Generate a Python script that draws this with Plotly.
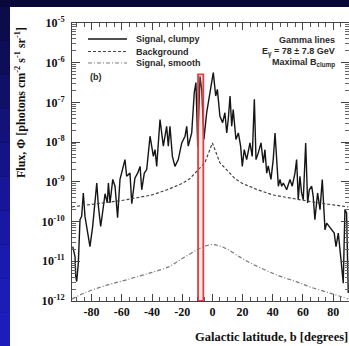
import plotly.graph_objects as go

# ---------------- data ----------------
clumpy_b = [-92.5, -91.0, -90.5, -89.9, -88.8, -87.7, -86.6, -85.5, -84.4, -82.2,
            -81.1, -79.3, -76.6, -75.5, -74.0, -72.2, -71.1, -69.6, -68.9, -67.8,
            -66.0, -64.5, -62.8, -61.2, -57.9, -56.8, -54.6, -53.4, -51.3, -49.5,
            -47.9, -46.8, -45.1, -43.5, -41.3, -39.1, -38.0, -36.9, -34.7, -32.5,
            -30.3, -29.2, -28.1, -26.5, -24.8, -22.6, -20.3, -18.1, -17.0, -16.0,
            -13.7, -12.0, -10.9, -9.7, -8.2, -7.1, -5.6, -3.8, -1.6, 0.6,
            2.2, 3.3, 5.0, 6.8, 8.3, 9.5, 10.5, 11.7, 12.8, 13.8,
            15.6, 17.2, 18.7, 19.8, 21.1, 22.7, 24.9, 26.4, 27.8, 28.9,
            30.4, 32.2, 33.7, 34.8, 36.0, 37.0, 38.8, 40.3, 41.5, 42.6,
            43.7, 44.8, 45.9, 47.0, 49.2, 51.4, 52.9, 54.7, 55.8, 56.9,
            58.0, 59.1, 60.2, 61.8, 63.1, 64.2, 65.8, 66.8, 67.9, 69.7,
            71.3, 72.8, 74.6, 75.7, 77.2, 79.0, 80.7, 81.9, 83.4, 85.2,
            86.7, 87.8, 88.9, 90.0]
clumpy_flux = [2.34e-11, 1.32e-11, 4.07e-12, 3.09e-12, 9.12e-12, 1.12e-10, 1.35e-10, 5.25e-10, 1.35e-10, 4.17e-11,
               2.34e-11, 7.59e-11, 9.33e-10, 2.40e-10, 7.59e-11, 2.40e-10, 5.01e-10, 2.95e-10, 9.33e-10, 2.95e-10,
               1.15e-9, 7.76e-10, 1.26e-10, 1.15e-9, 3.63e-9, 1.38e-9, 1.66e-9, 2.82e-10, 1.26e-9, 1.66e-9,
               2.45e-9, 6.31e-10, 1.66e-9, 2.04e-9, 1.41e-8, 4.37e-9, 6.46e-9, 2.45e-9, 3.72e-8, 7.94e-9,
               2.51e-8, 7.94e-9, 2.51e-8, 4.37e-9, 2.45e-9, 3.63e-9, 9.55e-9, 1.41e-8, 2.51e-8, 7.94e-9,
               1.70e-8, 1.78e-7, 3.16e-7, 7.94e-9, 4.57e-7, 2.14e-7, 1.17e-8, 5.50e-8, 1.78e-7, 5.62e-7,
               1.45e-7, 2.14e-7, 4.47e-8, 3.09e-8, 5.50e-8, 1.70e-8, 3.72e-8, 1.45e-7, 2.51e-8, 6.61e-8,
               1.17e-8, 1.70e-8, 7.94e-9, 2.45e-9, 6.46e-9, 3.63e-9, 9.55e-9, 4.37e-9, 1.20e-7, 3.63e-9,
               5.37e-9, 9.55e-9, 3.02e-9, 6.46e-9, 1.66e-9, 2.51e-9, 1.15e-9, 3.63e-9, 1.70e-8, 3.63e-9,
               7.76e-10, 1.15e-9, 7.76e-10, 9.33e-10, 6.31e-10, 1.15e-9, 7.76e-10, 1.66e-9, 3.63e-9, 3.55e-10,
               1.38e-9, 5.25e-10, 3.55e-10, 9.55e-9, 2.95e-10, 6.31e-10, 7.76e-10, 4.27e-10, 1.12e-10, 5.25e-10,
               2.00e-10, 1.15e-9, 6.17e-11, 9.12e-11, 7.59e-11, 6.17e-11, 5.13e-11, 2.34e-11, 5.13e-11, 1.10e-11,
               2.82e-12, 2.00e-10, 1.66e-10, 1.58e-12]

background_b = [-93, -80, -70, -60, -50, -40, -30, -25, -20, -15, -10, -5, -2, 0,
                2, 5, 10, 15, 20, 25, 30, 40, 50, 60, 70, 80, 90]
background_flux = [2.34e-10, 2.69e-10, 3.02e-10, 3.39e-10, 3.98e-10, 4.68e-10, 6.31e-10, 7.59e-10,
                   9.12e-10, 1.20e-9, 1.91e-9, 3.02e-9, 6.03e-9, 9.55e-9,
                   6.03e-9, 3.02e-9, 1.91e-9, 1.20e-9, 9.12e-10, 7.59e-10, 6.31e-10, 4.68e-10,
                   3.98e-10, 3.39e-10, 2.95e-10, 2.63e-10, 2.34e-10]

smooth_b = [-93, -85, -70, -60, -50, -40, -29, -20, -10, -5, 0, 5, 10, 18, 25, 35, 45,
            56, 65, 78, 86, 90]
smooth_flux = [1.12e-12, 1.58e-12, 2.51e-12, 3.16e-12, 4.07e-12, 5.25e-12, 7.24e-12, 1.17e-11,
               1.95e-11, 2.40e-11, 2.63e-11, 2.40e-11, 2.00e-11, 1.29e-11, 9.12e-12, 6.03e-12,
               4.17e-12, 3.02e-12, 2.24e-12, 1.58e-12, 1.26e-12, 1.12e-12]

highlight_b = [-9.5, -6.0]
highlight_flux = [1e-12, 5.1e-7]

x_tickvals = [-80, -60, -40, -20, 0, 20, 40, 60, 80]
x_ticktext = ["-80", "-60", "-40", "-20", "0", "20", "40", "60", "80"]
y_tickvals = [1e-12, 1e-11, 1e-10, 1e-9, 1e-8, 1e-7, 1e-6, 1e-5]
y_ticktext = ["10<sup>-12</sup>", "10<sup>-11</sup>", "10<sup>-10</sup>", "10<sup>-9</sup>",
              "10<sup>-8</sup>", "10<sup>-7</sup>", "10<sup>-6</sup>", "10<sup>-5</sup>"]

legend_names = ["Signal, clumpy", "Background", "Signal, smooth"]
info_lines = ["Gamma lines", "E<sub>γ</sub> = 78 ± 7.8 GeV", "Maximal B<sub>clump</sub>"]

# ---------------- styles ----------------
W, H = 349, 346
ML, MR, MT, MB = 72, 0, 23, 45
PW, PH = W - ML - MR, H - MT - MB

def px(xp):
    return (xp - ML) / PW

def py(yp):
    return (MT + PH - yp) / PH

styles = [dict(color="#151515", width=1.4),
          dict(color="#444444", width=1.2, dash="3px,2px"),
          dict(color="#7a7a7a", width=1.2, dash="4px,2px,1px,2px")]

fig = go.Figure()
fig.add_trace(go.Scatter(x=clumpy_b, y=clumpy_flux, mode="lines", line=styles[0],
                         name=legend_names[0], showlegend=False))
fig.add_trace(go.Scatter(x=background_b, y=background_flux, mode="lines", line=styles[1],
                         name=legend_names[1], showlegend=False))
fig.add_trace(go.Scatter(x=smooth_b, y=smooth_flux, mode="lines", line=dict(styles[2], shape="spline"),
                         name=legend_names[2], showlegend=False))

hx = [highlight_b[0], highlight_b[1], highlight_b[1], highlight_b[0], highlight_b[0]]
hy = [highlight_flux[0], highlight_flux[0], highlight_flux[1], highlight_flux[1], highlight_flux[0]]
fig.add_trace(go.Scatter(x=hx, y=hy, mode="lines", fill="toself",
                         fillcolor="rgba(255,170,170,0.22)",
                         line=dict(color="#e04040", width=1.8), showlegend=False))

shapes = []
# outer dark blue frame with gradient on the left
blues = ["#0c0c4a", "#0e0e58", "#101068", "#121278", "#141488", "#161696", "#1818a4", "#1a1aae", "#1c1cb6", "#1d1dbc"]
n = len(blues)
top_px, bot_px = 7, H
for i, c in enumerate(blues):
    y0 = top_px + (bot_px - top_px) * i / n
    y1 = top_px + (bot_px - top_px) * (i + 1) / n
    shapes.append(dict(type="rect", xref="paper", yref="paper", x0=px(0), x1=px(10.5),
                       y0=py(y1), y1=py(y0), fillcolor=c, line=dict(width=0), layer="below"))
shapes.append(dict(type="rect", xref="paper", yref="paper", x0=px(10), x1=px(W + 5),
                   y0=py(H + 5), y1=py(7), fillcolor="white", line=dict(width=0), layer="below"))

# manual legend samples
leg_y = [39, 51.5, 63]
for st, yy in zip(styles, leg_y):
    shapes.append(dict(type="line", xref="paper", yref="paper", x0=px(88), x1=px(127),
                       y0=py(yy), y1=py(yy), line=st))

annotations = []
for name, yy in zip(legend_names, leg_y):
    annotations.append(dict(text=name, xref="paper", yref="paper", x=px(134), y=py(yy),
                            xanchor="left", yanchor="middle", showarrow=False,
                            font=dict(family="Liberation Sans", size=9, color="#2a2a2a", weight="bold")))
for txt, yy in zip(info_lines, [40, 51.5, 63]):
    annotations.append(dict(text=txt, xref="paper", yref="paper", x=px(337), y=py(yy),
                            xanchor="right", yanchor="middle", showarrow=False,
                            font=dict(family="Liberation Sans", size=9, color="#2a2a2a", weight="bold")))
annotations.append(dict(text="(b)", xref="paper", yref="paper", x=px(88), y=py(77),
                        xanchor="left", yanchor="middle", showarrow=False,
                        font=dict(family="Liberation Sans", size=9, color="#2a2a2a", weight="bold")))
annotations.append(dict(text="Flux, Φ [photons cm<sup>-2</sup> s<sup>-1</sup> sr<sup>-1</sup>]",
                        xref="paper", yref="paper", x=px(20), y=py(103), textangle=-90,
                        xanchor="center", yanchor="middle", showarrow=False,
                        font=dict(family="Liberation Serif", size=12, color="#111", weight="bold")))
annotations.append(dict(text="Galactic latitude, b [degrees]", xref="paper", yref="paper",
                        x=px(193), y=py(337), xanchor="left", yanchor="middle", showarrow=False,
                        font=dict(family="Liberation Serif", size=12.5, color="#111", weight="bold")))

minor_y = [k * 10.0 ** e for e in range(-12, -5) for k in range(2, 10)]

tickfont = dict(family="Liberation Serif", size=12, color="#111", weight="bold")
fig.update_layout(
    width=W, height=H,
    margin=dict(l=ML, r=MR, t=MT, b=MB),
    paper_bgcolor="#08083a", plot_bgcolor="white",
    shapes=shapes, annotations=annotations, showlegend=False,
    xaxis=dict(range=[-93, 90.5], tickvals=x_tickvals, ticktext=x_ticktext,
               ticks="inside", ticklen=7, tickwidth=1, tickcolor="#444",
               showline=True, linecolor="#444", linewidth=1, mirror="ticks",
               showgrid=False, zeroline=False, tickfont=tickfont,
               minor=dict(dtick=5, tick0=0, ticks="inside", ticklen=4, tickcolor="#555", showgrid=False)),
    yaxis=dict(type="log", range=[-12, -5], tickvals=y_tickvals, ticktext=y_ticktext,
               ticks="inside", ticklen=8, tickwidth=1, tickcolor="#444",
               showline=True, linecolor="#444", linewidth=1, mirror="ticks",
               showgrid=False, zeroline=False, tickfont=tickfont, ticklabelstandoff=4,
               minor=dict(tickvals=minor_y, ticks="inside", ticklen=4, tickcolor="#666", showgrid=False)),
)

fig.write_html("out.html")
